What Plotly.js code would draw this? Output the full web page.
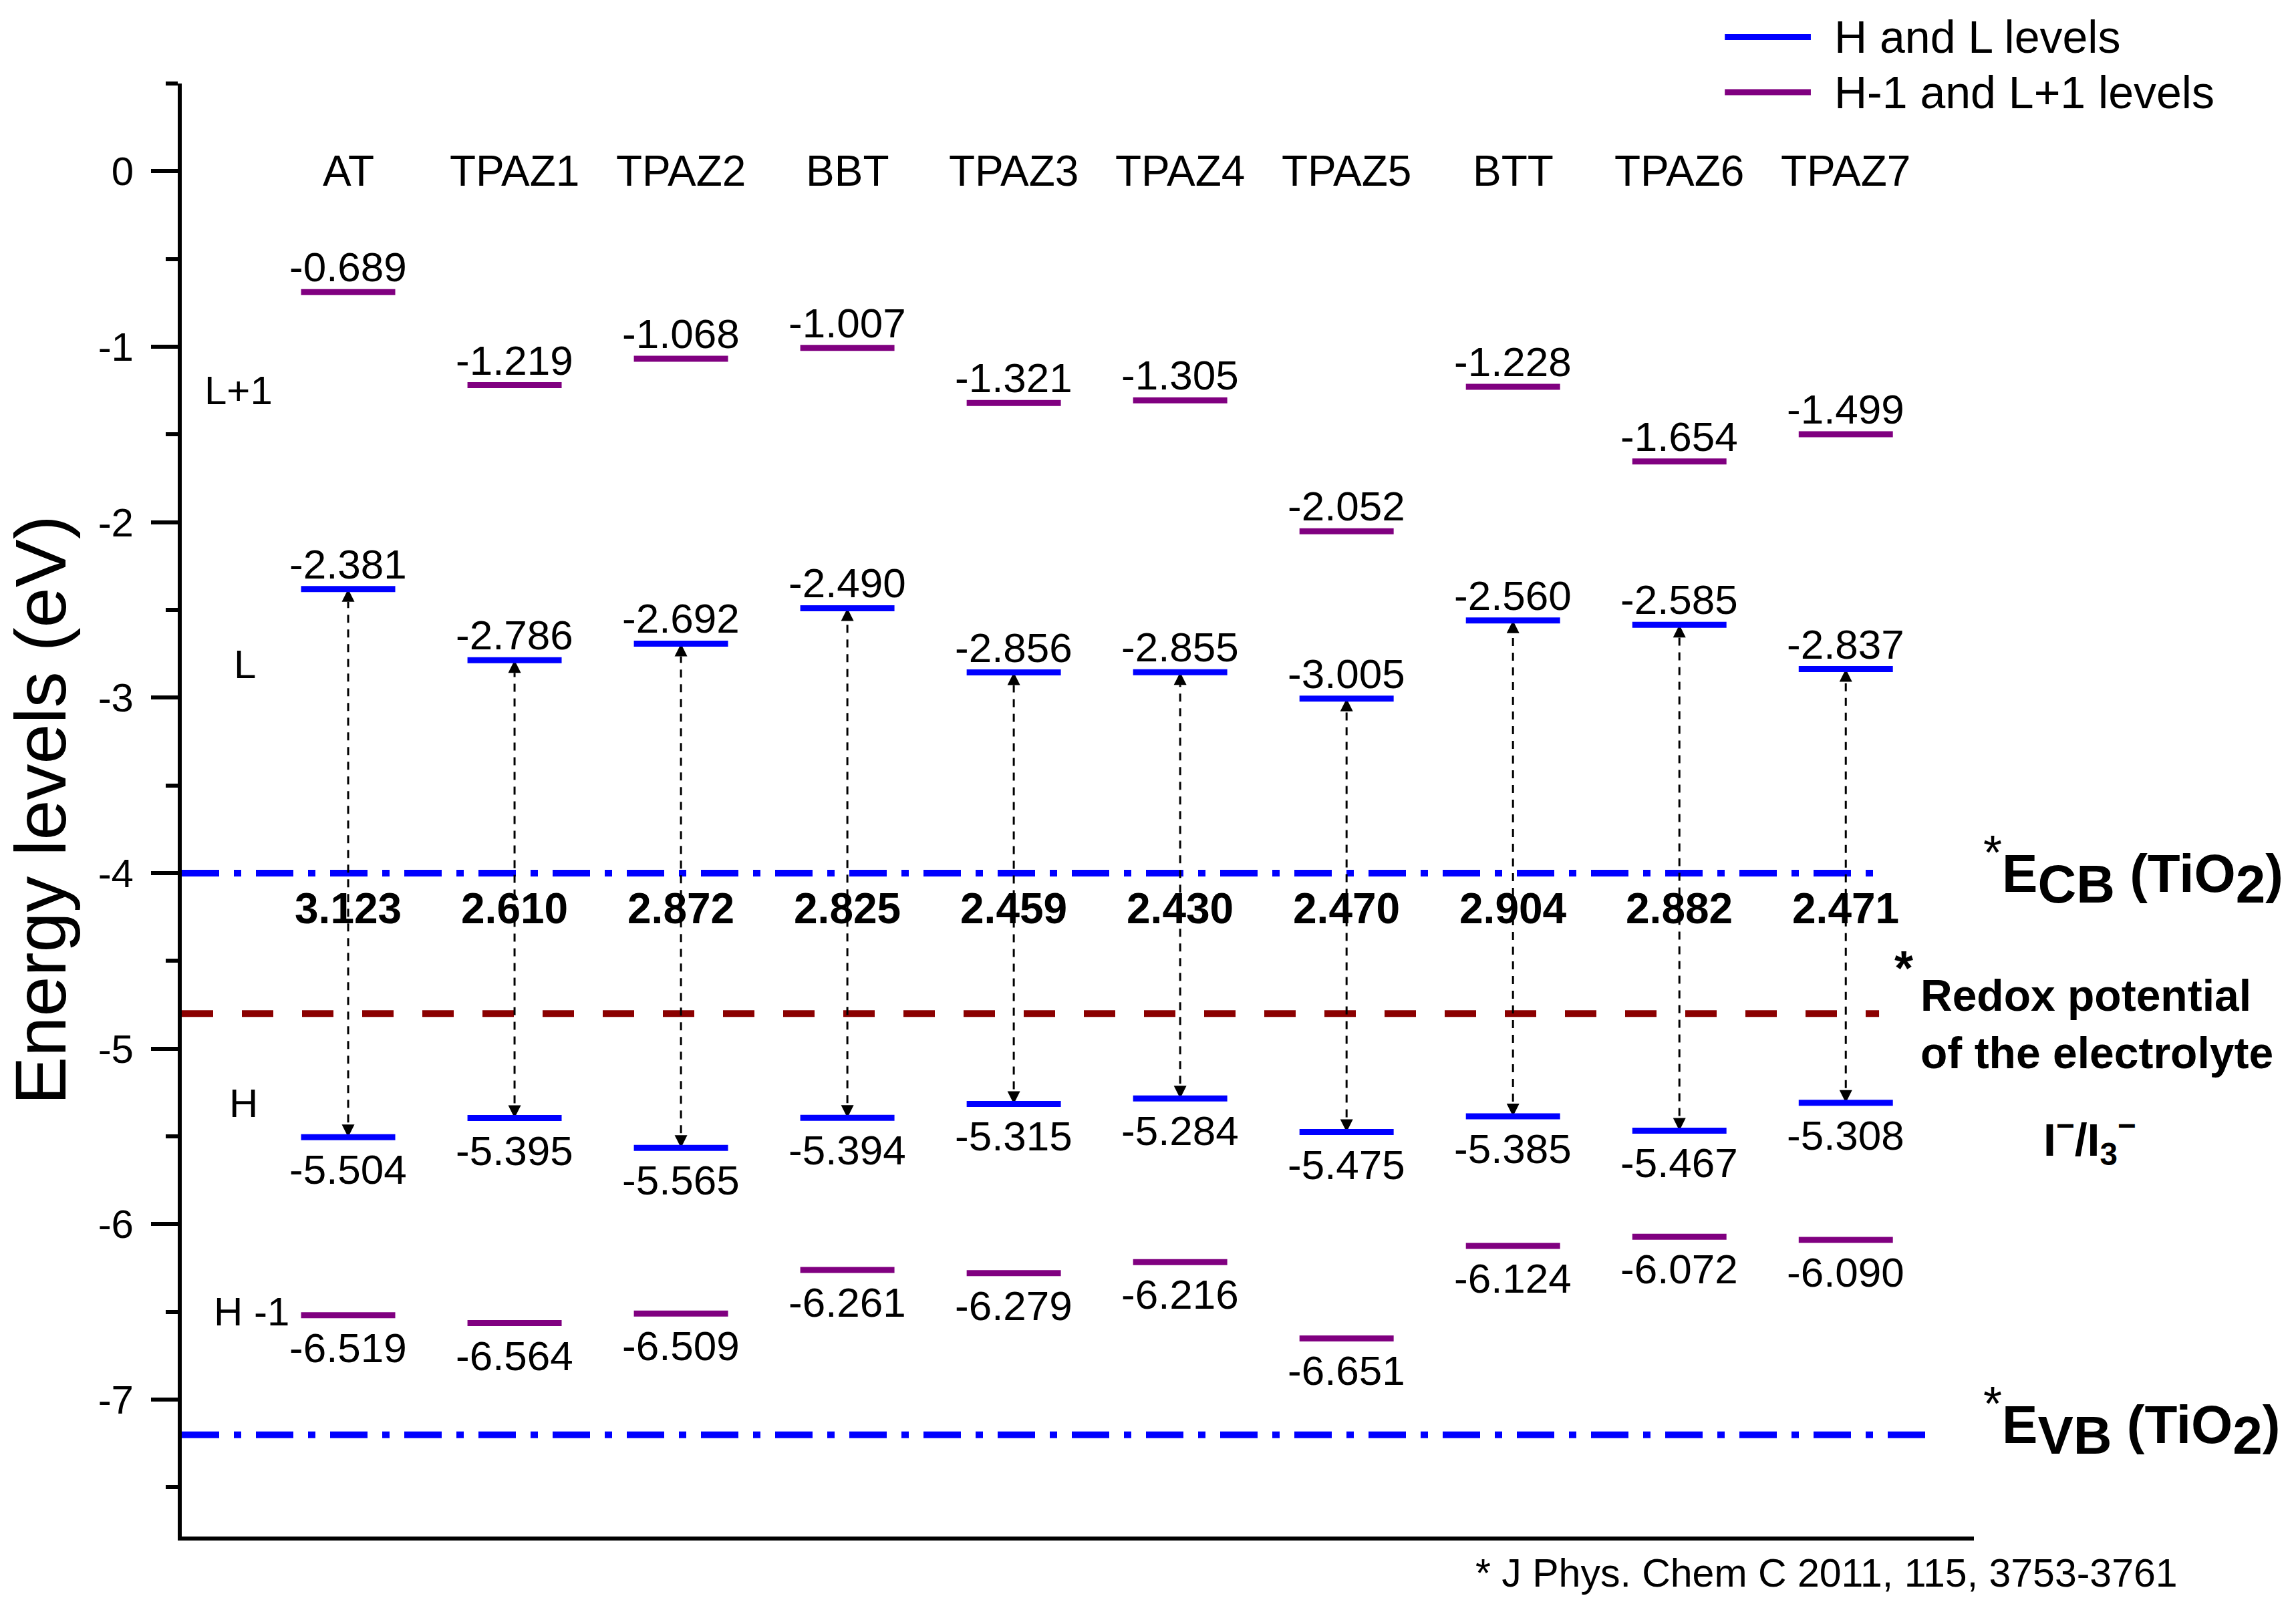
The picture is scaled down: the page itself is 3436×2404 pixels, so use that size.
<!DOCTYPE html>
<html><head><meta charset="utf-8">
<script src="https://cdn.plot.ly/plotly-3.0.1.min.js"></script>
<style>html,body{margin:0;padding:0;background:#fff}</style>
</head><body>
<div id="chart" style="width:3436px;height:2404px"></div>
<script>
// ---------- data ----------
const categories = ['AT','TPAZ1','TPAZ2','BBT','TPAZ3','TPAZ4','TPAZ5','BTT','TPAZ6','TPAZ7'];
const lumoPlus1  = [-0.689,-1.219,-1.068,-1.007,-1.321,-1.305,-2.052,-1.228,-1.654,-1.499];
const lumo       = [-2.381,-2.786,-2.692,-2.490,-2.856,-2.855,-3.005,-2.560,-2.585,-2.837];
const homo       = [-5.504,-5.395,-5.565,-5.394,-5.315,-5.284,-5.475,-5.385,-5.467,-5.308];
const homoMinus1 = [-6.519,-6.564,-6.509,-6.261,-6.279,-6.216,-6.651,-6.124,-6.072,-6.090];
const gaps       = [3.123,2.610,2.872,2.825,2.459,2.430,2.470,2.904,2.882,2.471];
const levelNames = ['L+1','L','H','H -1'];
const ecbTiO2 = -4.0;
const redoxElectrolyte = -4.8;
const evbTiO2 = -7.2;
const yTickValues = [0,-1,-2,-3,-4,-5,-6,-7];
const legendLabels = ['H and L levels','H-1 and L+1 levels'];
const footnote = '* J Phys. Chem C 2011, 115, 3753-3761';

// ---------- styles ----------
const FONT = 'Liberation Sans, Arial, Helvetica, sans-serif';
const BLUE = '#0000FF', PURPLE = '#800080', DARKRED = '#8B0000';
const HW = 0.283;
const xs = categories.map((c,i)=>i+1);

function levelSegments(seriesList){
  const x=[], y=[];
  seriesList.forEach(s=>s.forEach((v,i)=>{ x.push(xs[i]-HW, xs[i]+HW, null); y.push(v, v, null); }));
  return {x, y};
}
const hl = levelSegments([lumo, homo]);
const hl1 = levelSegments([lumoPlus1, homoMinus1]);

// double-headed dashed arrows between H and L
const arrowX = [], arrowY = [], arrowSym = [];
xs.forEach((x,i)=>{ arrowX.push(x, x, null); arrowY.push(homo[i], lumo[i], null); arrowSym.push('arrow-down','arrow-up','circle'); });

const traces = [
  {x:[0,10.23], y:[ecbTiO2,ecbTiO2], mode:'lines', line:{color:BLUE, width:10, dash:'56px,22px,11px,22px'}, hoverinfo:'skip'},
  {x:[0,10.2], y:[redoxElectrolyte,redoxElectrolyte], mode:'lines', line:{color:DARKRED, width:10, dash:'47px,43px'}, hoverinfo:'skip'},
  {x:[0,10.5], y:[evbTiO2,evbTiO2], mode:'lines', line:{color:BLUE, width:10, dash:'56px,22px,11px,22px'}, hoverinfo:'skip'},
  {x:arrowX, y:arrowY, mode:'lines+markers', line:{color:'#000', width:3, dash:'12px,10px'},
    marker:{symbol:arrowSym, size:19, color:'#000', line:{width:0}}, hoverinfo:'skip'},
  {x:hl.x, y:hl.y, mode:'lines', line:{color:BLUE, width:9}, name:legendLabels[0]},
  {x:hl1.x, y:hl1.y, mode:'lines', line:{color:PURPLE, width:9}, name:legendLabels[1]}
];

const ann = [];
// category names
categories.forEach((c,i)=>ann.push({x:xs[i], y:0, xref:'x', yref:'y', text:c, showarrow:false,
  xanchor:'center', yanchor:'middle', font:{size:64, family:FONT, color:'#000'}}));
// value labels
function valueLabels(series, above){
  series.forEach((v,i)=>ann.push({x:xs[i], y:v, xref:'x', yref:'y', text:v.toFixed(3), showarrow:false,
    xanchor:'center', yanchor: above?'bottom':'top', yshift: above?1:-12,
    font:{size:62, family:FONT, color:'#000'}}));
}
valueLabels(lumoPlus1, true);
valueLabels(lumo, true);
valueLabels(homo, false);
valueLabels(homoMinus1, false);
// gap labels
gaps.forEach((g,i)=>ann.push({x:xs[i], y:-4.2, xref:'x', yref:'y', text:g.toFixed(3), showarrow:false,
  xanchor:'center', yanchor:'middle', font:{size:64, family:FONT, color:'#000', weight:'bold'}}));
// level names on the left
const levelNameY = [-1.25, -2.81, -5.31, -6.5];
const levelNameX = [0.34, 0.38, 0.37, 0.42];
levelNames.forEach((n,k)=>ann.push({x:levelNameX[k], y:levelNameY[k], xref:'x', yref:'y', text:n, showarrow:false,
  xanchor:'center', yanchor:'middle', font:{size:60, family:FONT, color:'#000'}}));
// right-hand labels
const big = 'font-size:80px';
const star = '<sup><span style="font-size:72px">*</span></sup>';
ann.push({x:1.0045, y:ecbTiO2+0.02, xref:'paper', yref:'y', showarrow:false, xanchor:'left', yanchor:'middle',
  text:star+'<b>E<sub><span style="'+big+'">CB</span></sub> (TiO<sub><span style="'+big+'">2</span></sub>)</b>',
  font:{size:80, family:FONT, color:'#000'}});
ann.push({x:1.0045, y:evbTiO2+0.08, xref:'paper', yref:'y', showarrow:false, xanchor:'left', yanchor:'middle',
  text:star+'<b>E<sub><span style="'+big+'">VB</span></sub> (TiO<sub><span style="'+big+'">2</span></sub>)</b>',
  font:{size:80, family:FONT, color:'#000'}});
ann.push({x:0.955, y:redoxElectrolyte+0.26, xref:'paper', yref:'y', showarrow:false, xanchor:'left', yanchor:'middle',
  text:'<b>*</b>', font:{size:72, family:FONT, color:'#000'}});
ann.push({x:0.9694, y:redoxElectrolyte-0.06, xref:'paper', yref:'y', showarrow:false, xanchor:'left', yanchor:'middle', align:'left',
  text:'<b>Redox potential<br>of the electrolyte</b>', font:{size:66, family:FONT, color:'#000'}});
ann.push({x:1.038, y:-5.52, xref:'paper', yref:'y', showarrow:false, xanchor:'left', yanchor:'middle',
  text:'<b>I<sup>−</sup>/I<sub>3</sub><sup>−</sup></b>', font:{size:68, family:FONT, color:'#000'}});
// footnote
ann.push({x:0.9176, y:-0.0253, xref:'paper', yref:'paper', showarrow:false, xanchor:'center', yanchor:'middle',
  text:footnote, font:{size:59, family:FONT, color:'#000'}});
// custom legend
const legY = [1.032, 0.994];
const legColors = [BLUE, PURPLE];
const shapes = [];
legendLabels.forEach((t,k)=>{
  shapes.push({type:'line', xref:'paper', yref:'paper', x0:0.861, x1:0.909, y0:legY[k], y1:legY[k], line:{color:legColors[k], width:9}});
  ann.push({x:0.9213, y:legY[k], xref:'paper', yref:'paper', showarrow:false, xanchor:'left', yanchor:'middle',
    text:t, font:{size:68, family:FONT, color:'#000'}});
});

const layout = {
  width:3436, height:2404,
  margin:{l:272, r:482, t:125, b:104, pad:0},
  paper_bgcolor:'#fff', plot_bgcolor:'#fff',
  showlegend:false,
  font:{family:FONT, color:'#000'},
  xaxis:{range:[0,10.77], showline:true, linewidth:6, linecolor:'#000', ticks:'', showticklabels:false,
    showgrid:false, zeroline:false, fixedrange:true},
  yaxis:{range:[-7.78,0.5], tickmode:'array', tickvals:yTickValues, ticktext:yTickValues.map(v=>String(v)),
    ticks:'outside', ticklen:40, tickwidth:6, tickcolor:'#000', showline:true, linewidth:6, linecolor:'#000',
    showgrid:false, zeroline:false, tickfont:{size:60, family:FONT, color:'#000'}, ticklabelstandoff:14,
    minor:{tickmode:'linear', tick0:0.5, dtick:1, ticks:'outside', ticklen:18, tickwidth:6, tickcolor:'#000', showgrid:false},
    title:{text:'Energy levels (eV)', font:{size:108, family:FONT, color:'#000'}}},
  annotations:ann,
  shapes:shapes
};
Plotly.newPlot('chart', traces, layout, {staticPlot:true, displayModeBar:false});
</script>
</body></html>
